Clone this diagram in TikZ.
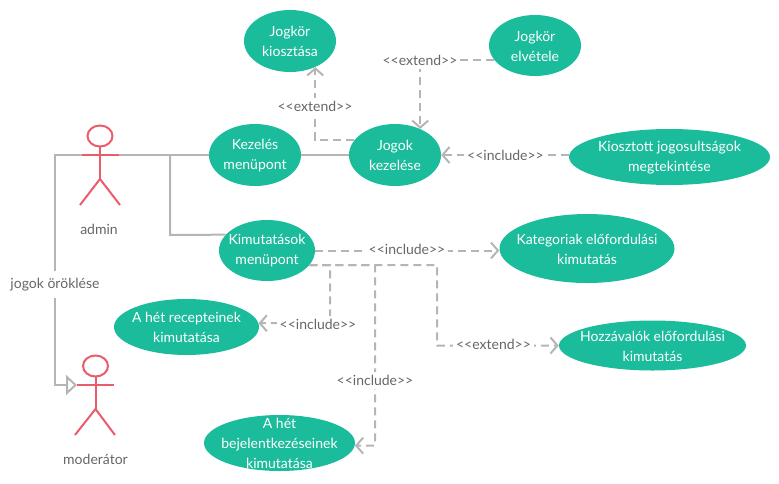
\documentclass[tikz,border=0pt]{standalone}
\usepackage{fontspec}
\setmainfont{Lato}
\usetikzlibrary{shapes.geometric,arrows.meta}
\definecolor{caseteal}{HTML}{1BBC9B}
\definecolor{actorred}{HTML}{EB5C6B}
\definecolor{linegrey}{HTML}{B5B5B5}
\definecolor{textgrey}{HTML}{666666}
\tikzset{
  usecase/.style 2 args={ellipse,fill=caseteal,inner sep=0pt,minimum width=#1pt,minimum height=#2pt},
  casetext/.style={text=white,align=center,yshift=-.5pt,font=\fontsize{14}{20}\selectfont},
  actorline/.style={draw=actorred,line width=2pt},
  actorname/.style={text=textgrey,font=\fontsize{14}{16}\selectfont},
  assoc/.style={draw=linegrey,line width=2pt},
  dep/.style={draw=linegrey,line width=2pt,dash pattern=on 8pt off 5pt,-{Straight Barb[length=7pt,width=16pt,line width=2pt]}},
  deplabel/.style={fill=white,text=textgrey,inner sep=3pt,font=\fontsize{14}{16}\selectfont}
}
\begin{document}
\begin{tikzpicture}[x=1pt,y=-1pt]
\useasboundingbox (0,0) rectangle (779,483);

% use cases
\node [usecase={92}{62},label={[casetext]center:Jogkör\\kiosztása}] (kiosztasa) at (290,41) {};
\node [usecase={92}{61},label={[casetext]center:Jogkör\\elvétele}] (elvetele) at (535,45.5) {};
\node [usecase={92}{62},label={[casetext]center:Jogok\\kezelése}] (jogok) at (395,155) {};
\node [usecase={92}{62},label={[casetext]center:Kezelés\\menüpont}] (kezeles) at (255,155) {};
\node [usecase={201}{56},label={[casetext]center:Kiosztott jogosultságok\\megtekintése}] (kiosztott) at (669.5,157) {};
\node [usecase={96}{61},label={[casetext]center:Kimutatások\\menüpont}] (kimutatasok) at (267,250.5) {};
\node [usecase={175}{69},label={[casetext]center:Kategoriak előfordulási\\kimutatás}] (kategoriak) at (587,248.5) {};
\node [usecase={187}{50},label={[casetext]center:Hozzávalók előfordulási\\kimutatás}] (hozzavalok) at (652.5,345.5) {};
\node [usecase={145}{56},label={[casetext]center:A hét recepteinek\\kimutatása}] (receptek) at (186.5,327) {};
\node [usecase={151}{56},label={[casetext]center:A hét\\bejelentkezéseinek\\kimutatása}] (bejelentkezes) at (279.5,443) {};

% admin
\draw [actorline] (100,136) ellipse (12.5 and 10.5);
\coordinate (adminL) at (82,155);
\coordinate (adminR) at (119,155);
\draw [actorline] (adminL) -- (adminR);
\draw [actorline] (100,146.5) -- (100,179);
\draw [actorline] (80,205) -- (100,179) -- (120,205);
\node [actorname] (adminname) at (99,229) {admin};

% moderator
\draw [actorline] (95.5,366) ellipse (12.5 and 10.5);
\coordinate (modL) at (77,385);
\coordinate (modR) at (114,385);
\draw [actorline] (modL) -- (modR);
\draw [actorline] (95.5,376.5) -- (95.5,409);
\draw [actorline] (75,435) -- (95.5,409) -- (115,435);
\node [actorname] (modname) at (95.5,459) {moderátor};

% turning points
\coordinate (inhTop) at (55,155);
\coordinate (inhBot) at (55,385);
\coordinate (branch) at (170,155);
\coordinate (branchBot) at (170,235);
\coordinate (turnA) at (330,265);
\coordinate (turnB) at (375,265);
\coordinate (turnC) at (437,265);

% connectors
\draw [assoc,-{Triangle[open,length=11pt,width=20pt,line width=2pt]}] (adminL) -- (inhTop) -- (inhBot) -- (modL);
\draw [assoc] (adminR) -- (kezeles.west);
\draw [assoc] (branch) -- (branchBot) -- (kimutatasok.159);
\draw [assoc] (kezeles.east) -- (jogok.west);

\draw [dep] (jogok.160) -| (kiosztasa.-46);
\draw [dep] (elvetele.200) -| (jogok.46);
\draw [dep] (jogok.east -| kiosztott.west) -- (jogok.east);
\draw [dep] (kimutatasok.east) -- (kimutatasok.east -| kategoriak.west);
\draw [dep] (kimutatasok.-19) -- (turnA) |- (receptek.3);
\draw [dep] (kimutatasok.-19) -- (turnB) |- (bejelentkezes.-2);
\draw [dep] (kimutatasok.-19) -- (turnC) |- (hozzavalok.west);

% labels
\node [deplabel] (extA) at (315,106.5) {<{}<extend>{}>};
\node [deplabel] (extB) at (420,60.5) {<{}<extend>{}>};
\node [deplabel] (incA) at (505.5,155) {<{}<include>{}>};
\node [deplabel] (incB) at (407,249.5) {<{}<include>{}>};
\node [deplabel] (incC) at (318,324.5) {<{}<include>{}>};
\node [deplabel] (incD) at (375,380.5) {<{}<include>{}>};
\node [deplabel] (extC) at (493.5,344.5) {<{}<extend>{}>};
\node [actorname,fill=white,inner sep=3pt,minimum height=27pt] (oroklese) at (55,284.5) {jogok öröklése};

\end{tikzpicture}
\end{document}
